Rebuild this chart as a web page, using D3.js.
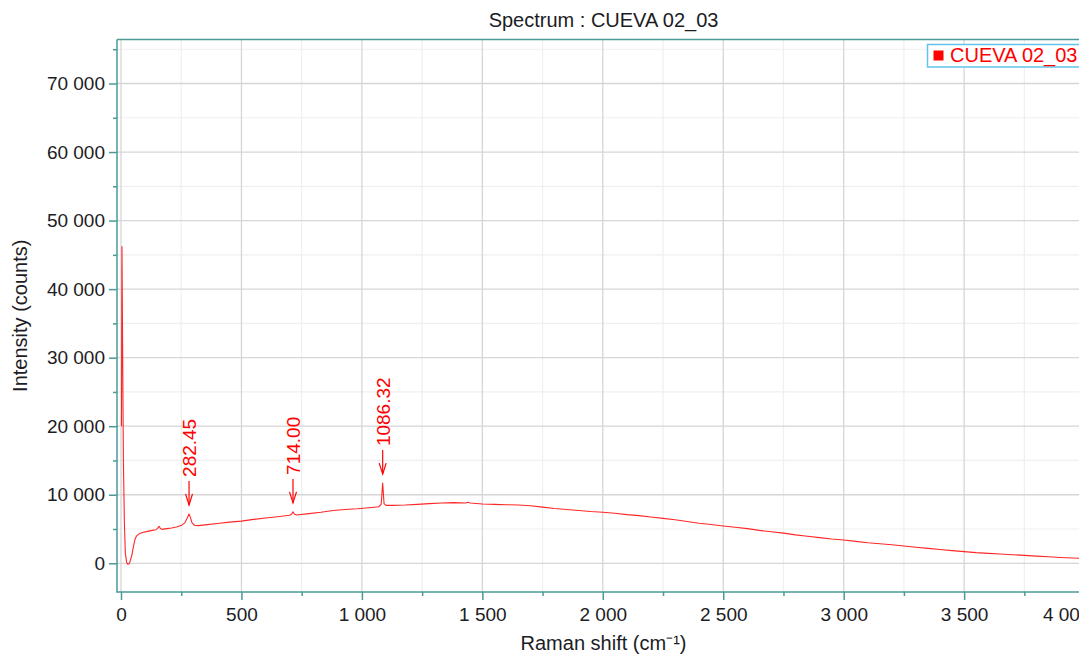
<!DOCTYPE html>
<html>
<head>
<meta charset="utf-8">
<script src="https://cdn.jsdelivr.net/npm/d3@7/dist/d3.min.js"></script>
<style>
  html, body { margin: 0; padding: 0; background: #fff; overflow: hidden; }
  svg { display: block; font-family: "Liberation Sans", Arial, sans-serif; }
</style>
</head>
<body>
<svg id="chart" width="1079" height="655"></svg>
<script>
// ---- data ----
const chartTitle = "Spectrum : CUEVA 02_03";
const seriesName = "CUEVA 02_03";
const xLabel = "Raman shift (cm\u207B\u00B9)";
const yLabel = "Intensity (counts)";

const shift = [2, 4, 7, 10, 14, 18, 23, 28, 33, 38, 45, 52, 58, 65, 75, 90, 110, 130, 145, 152, 158, 163, 170, 190, 210, 230, 250, 265, 275, 282.45, 288, 295, 305, 320, 350, 400, 450, 500, 550, 600, 650, 700, 708, 714, 720, 730, 780, 830, 880, 930, 980, 1030, 1070, 1080, 1086.32, 1092, 1100, 1130, 1180, 1230, 1280, 1330, 1380, 1430, 1440, 1450, 1500, 1550, 1600, 1650, 1700, 1750, 1800, 1850, 1900, 1950, 2000, 2050, 2100, 2150, 2200, 2250, 2300, 2350, 2400, 2450, 2500, 2550, 2600, 2650, 2700, 2750, 2800, 2850, 2900, 2950, 3000, 3050, 3100, 3150, 3200, 3250, 3300, 3350, 3400, 3450, 3500, 3550, 3600, 3650, 3700, 3750, 3800, 3850, 3900, 3950, 4000, 4020];
const counts = [20000, 46200, 30000, 15000, 6000, 1500, 200, -150, -100, 300, 1200, 2500, 3500, 4000, 4300, 4500, 4650, 4800, 4900, 5100, 5400, 5100, 4950, 5050, 5150, 5300, 5500, 5900, 6600, 7200, 6700, 5900, 5550, 5500, 5600, 5800, 6000, 6150, 6400, 6600, 6800, 7000, 7150, 7500, 7150, 7050, 7250, 7450, 7700, 7850, 7950, 8100, 8250, 8600, 11700, 8700, 8450, 8450, 8500, 8600, 8700, 8800, 8850, 8800, 8900, 8800, 8650, 8600, 8550, 8500, 8400, 8200, 8000, 7850, 7700, 7550, 7450, 7300, 7100, 6950, 6750, 6550, 6350, 6100, 5850, 5650, 5450, 5250, 5050, 4800, 4600, 4400, 4150, 3950, 3750, 3550, 3400, 3200, 3000, 2850, 2700, 2520, 2350, 2180, 2000, 1850, 1700, 1550, 1450, 1350, 1250, 1160, 1050, 950, 850, 780, 700, 680];

const peakShifts = [282.45, 714.00, 1086.32];
const peakCounts = [7200, 7500, 11700];
const peakLabels = ["282.45", "714.00", "1086.32"];

const xTicks = [0, 500, 1000, 1500, 2000, 2500, 3000, 3500, 4000];
const xMinorTicks = [250, 750, 1250, 1750, 2250, 2750, 3250, 3750];
const yTicks = [0, 10000, 20000, 30000, 40000, 50000, 60000, 70000];
const yMinorTicks = [5000, 15000, 25000, 35000, 45000, 55000, 65000, 75000];

// ---- layout ----
const svg = d3.select("#chart");
const mLeft = 117, mTop = 39.5, mBottom = 592, mRight = 1090;
const AXIS = "#4a9a96", RED = "#ff0000", TXT = "#1c1c24", FS = 19, FL = 20;

const x = d3.scaleLinear().domain([-16.6, 4022.5]).range([mLeft, mRight]);
const y = d3.scaleLinear().domain([-4190, 76420]).range([mBottom, mTop]);

const loc = d3.formatLocale({decimal: ".", thousands: " ", grouping: [3], currency: ["", ""]});
const fmt = loc.format(",");

svg.append("defs").append("clipPath").attr("id", "clip")
  .append("rect").attr("x", mLeft).attr("y", mTop).attr("width", mRight - mLeft).attr("height", mBottom - mTop);

// grid
const grid = svg.append("g");
grid.selectAll(".vmin").data(xMinorTicks).join("line")
  .attr("x1", d => x(d)).attr("x2", d => x(d)).attr("y1", mTop).attr("y2", mBottom)
  .attr("stroke", "#efefef").attr("stroke-width", 1.2);
grid.selectAll(".hmin").data(yMinorTicks).join("line")
  .attr("y1", d => y(d)).attr("y2", d => y(d)).attr("x1", mLeft).attr("x2", mRight)
  .attr("stroke", "#efefef").attr("stroke-width", 1.2);
grid.selectAll(".vmaj").data(xTicks).join("line")
  .attr("x1", d => x(d)).attr("x2", d => x(d)).attr("y1", mTop).attr("y2", mBottom)
  .attr("stroke", "#d6d6d6").attr("stroke-width", 1.3);
grid.selectAll(".hmaj").data(yTicks).join("line")
  .attr("y1", d => y(d)).attr("y2", d => y(d)).attr("x1", mLeft).attr("x2", mRight)
  .attr("stroke", "#d6d6d6").attr("stroke-width", 1.3);

// spectrum line
const pts = shift.map((s, i) => [s, counts[i]]);
svg.append("path").datum(pts)
  .attr("clip-path", "url(#clip)")
  .attr("fill", "none").attr("stroke", RED).attr("stroke-width", 1.1).attr("stroke-opacity", 0.85)
  .attr("stroke-linejoin", "round")
  .attr("d", d3.line().x(d => x(d[0])).y(d => y(d[1])));

// axes
const xAxis = svg.append("g").attr("transform", `translate(0,${mBottom})`)
  .call(d3.axisBottom(x).tickValues(xTicks).tickFormat(fmt).tickSize(8).tickPadding(8));
const xMinor = svg.append("g").attr("transform", `translate(0,${mBottom})`)
  .call(d3.axisBottom(x).tickValues(xMinorTicks).tickFormat("").tickSize(4));
const yAxis = svg.append("g").attr("transform", `translate(${mLeft},0)`)
  .call(d3.axisLeft(y).tickValues(yTicks).tickFormat(fmt).tickSize(8).tickPadding(4));
const yMinor = svg.append("g").attr("transform", `translate(${mLeft},0)`)
  .call(d3.axisLeft(y).tickValues(yMinorTicks).tickFormat("").tickSize(4));
[xAxis, xMinor, yAxis, yMinor].forEach(g => {
  g.select(".domain").remove();
  g.selectAll(".tick line").attr("stroke", AXIS).attr("stroke-width", 1.5);
  g.selectAll(".tick text").attr("fill", TXT).attr("font-size", FS).attr("font-family", "Liberation Sans, Arial, sans-serif");
});
// the last x label is pulled in so it ends at the plot's right edge
xAxis.selectAll(".tick").filter(d => d === xTicks[xTicks.length - 1]).select("text")
  .attr("text-anchor", "end").attr("x", mRight - x(xTicks[xTicks.length - 1]));

// frame
svg.append("line").attr("x1", mLeft).attr("x2", mLeft).attr("y1", mTop).attr("y2", mBottom + 0.75)
  .attr("stroke", AXIS).attr("stroke-width", 1.5);
svg.append("line").attr("x1", mLeft).attr("x2", mRight).attr("y1", mBottom).attr("y2", mBottom)
  .attr("stroke", AXIS).attr("stroke-width", 1.5);
svg.append("line").attr("x1", mLeft).attr("x2", mRight).attr("y1", mTop).attr("y2", mTop)
  .attr("stroke", AXIS).attr("stroke-width", 1.5);
svg.append("line").attr("x1", mRight).attr("x2", mRight).attr("y1", mTop).attr("y2", mBottom)
  .attr("stroke", AXIS).attr("stroke-width", 1.5);

// peak annotations
const ann = svg.append("g");
peakShifts.forEach((p, i) => {
  const px = x(p);
  const tip = y(peakCounts[i]) - 9;
  const tail = tip - 24;
  const g = ann.append("g");
  g.append("line").attr("x1", px).attr("x2", px).attr("y1", tail).attr("y2", tip)
    .attr("stroke", RED).attr("stroke-width", 1.2);
  g.append("path").attr("d", `M${px - 3.5},${tip - 11}L${px},${tip}L${px + 3.5},${tip - 11}`)
    .attr("fill", "none").attr("stroke", RED).attr("stroke-width", 1.2);
  g.append("text").attr("transform", `translate(${px + 7},${tail - 4}) rotate(-90)`)
    .attr("fill", RED).attr("font-size", FS).text(peakLabels[i]);
});

// title and axis labels
svg.append("text").attr("x", (mLeft + mRight) / 2).attr("y", 27).attr("text-anchor", "middle")
  .attr("fill", TXT).attr("font-size", FL).text(chartTitle);
svg.append("text").attr("x", (mLeft + mRight) / 2).attr("y", 650).attr("text-anchor", "middle")
  .attr("fill", TXT).attr("font-size", FL).text(xLabel);
svg.append("text").attr("transform", `translate(27,${(mTop + mBottom) / 2}) rotate(-90)`)
  .attr("text-anchor", "middle").attr("fill", TXT).attr("font-size", FL).text(yLabel);

// legend
const lg = svg.append("g");
lg.append("rect").attr("x", 927.5).attr("y", 44.5).attr("width", 200).attr("height", 22.5)
  .attr("fill", "#fff").attr("stroke", "#62c4ea").attr("stroke-width", 1.5);
lg.append("rect").attr("x", 933.5).attr("y", 50.5).attr("width", 10).attr("height", 10).attr("fill", RED);
lg.append("text").attr("x", 950).attr("y", 62).attr("fill", RED).attr("font-size", FL).text(seriesName);
</script>
</body>
</html>
